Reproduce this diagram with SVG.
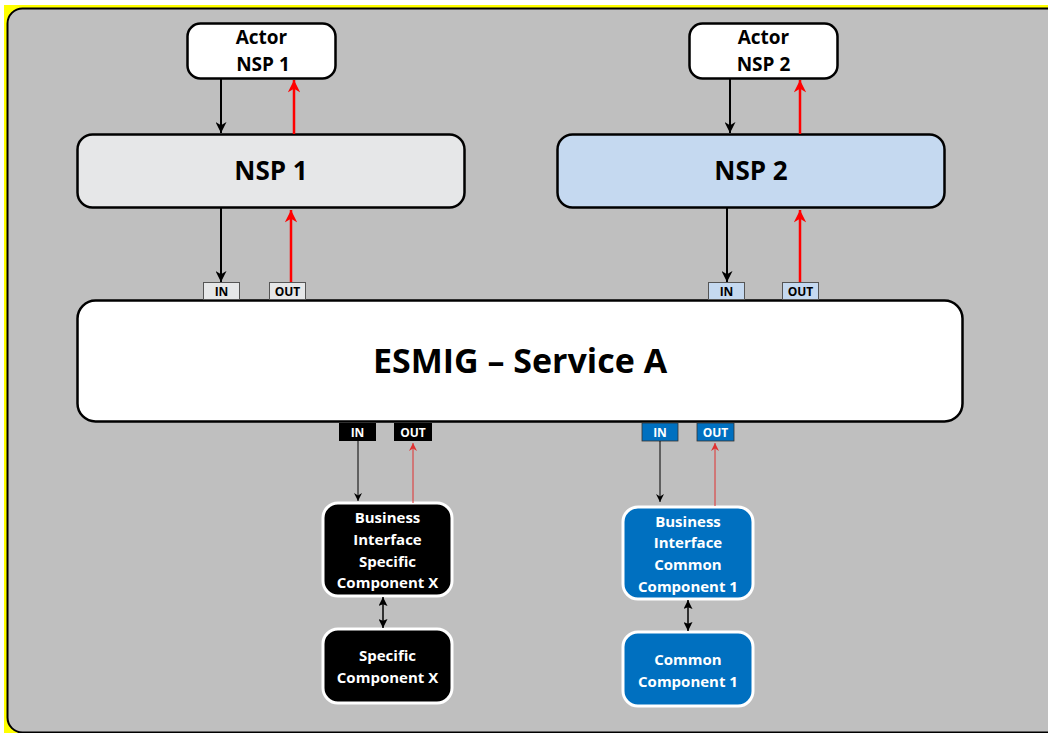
<svg xmlns="http://www.w3.org/2000/svg" width="1048" height="733" viewBox="0 0 1048 733">
<style>
text{font-family:"Open Sans","Noto Sans","Liberation Sans",Arial,sans-serif;font-weight:bold;text-anchor:middle;dominant-baseline:central}
.box{stroke:#000;stroke-width:2.5}
.port{stroke:#555;stroke-width:1}
.pt{font-size:12px}
.blk{stroke:#000;stroke-width:2;fill:none}
.red{stroke:#ff0000;stroke-width:2.5;fill:none}
.thin{stroke:#000;stroke-width:1;fill:none}
.thinr{stroke:#e03030;stroke-width:1;fill:none}
.comp{stroke:#fff;stroke-width:3}
.ct{font-size:15px;fill:#fff}
.at{font-size:19px}
</style>
<defs>
<marker id="ab" viewBox="0 0 10 10" refX="10" refY="5" markerWidth="5.5" markerHeight="5.5" orient="auto" markerUnits="strokeWidth"><path d="M0,0L10,5L0,10L3,5Z" fill="#000"/></marker>
<marker id="ar" viewBox="0 0 10 10" refX="10" refY="5" markerWidth="5" markerHeight="5" orient="auto" markerUnits="strokeWidth"><path d="M0,0L10,5L0,10L3,5Z" fill="#ff0000"/></marker>
<marker id="abt" viewBox="0 0 10 10" refX="10" refY="5" markerWidth="8" markerHeight="8" orient="auto" markerUnits="strokeWidth"><path d="M0,0L10,5L0,10L3,5Z" fill="#000"/></marker>
<marker id="art" viewBox="0 0 10 10" refX="10" refY="5" markerWidth="8" markerHeight="8" orient="auto" markerUnits="strokeWidth"><path d="M0,0L10,5L0,10L3,5Z" fill="#e03030"/></marker>
<marker id="dbl" viewBox="0 0 10 10" refX="10" refY="5" markerWidth="6" markerHeight="6" orient="auto-start-reverse" markerUnits="strokeWidth"><path d="M0,0L10,5L0,10L2,5Z" fill="#000"/></marker>
</defs>
<rect x="0" y="0" width="1048" height="733" fill="#fff"/>
<rect x="4" y="5" width="1060" height="740" fill="#ffff00"/>
<rect x="7.5" y="8.5" width="1060" height="724" rx="15" fill="#bfbfbf" stroke="#000" stroke-width="2"/>

<g id="actor-nsp1">
<rect class="box" x="187.5" y="23.5" width="148" height="55" rx="13" fill="#fff"/>
<text class="at" x="261.5" y="37">Actor</text>
<text class="at" x="263" y="64">NSP 1</text>
</g>
<g id="actor-nsp2">
<rect class="box" x="689.5" y="23.5" width="148" height="55" rx="13" fill="#fff"/>
<text class="at" x="763.5" y="37">Actor</text>
<text class="at" x="763.5" y="64">NSP 2</text>
</g>
<g id="nsp1">
<rect class="box" x="77.5" y="134.5" width="387" height="73" rx="15" fill="#e6e7e8"/>
<text x="271" y="170" font-size="26">NSP 1</text>
</g>
<g id="nsp2">
<rect class="box" x="557.5" y="134.5" width="387" height="73" rx="15" fill="#c5d9f0"/>
<text x="751" y="170" font-size="26">NSP 2</text>
</g>
<g id="esmig">
<rect class="box" x="77.5" y="300.5" width="885" height="121" rx="18" fill="#fff"/>
<text x="520" y="360" font-size="34">ESMIG – Service A</text>
</g>
<g id="ports-nsp1">
<rect class="port" x="203.5" y="282.5" width="36" height="17" fill="#e6e7e8"/>
<text class="pt" x="221.5" y="291">IN</text>
<rect class="port" x="269.5" y="282.5" width="36" height="17" fill="#e6e7e8"/>
<text class="pt" x="287.5" y="291">OUT</text>
</g>
<g id="ports-nsp2">
<rect class="port" x="708.5" y="282.5" width="36" height="17" fill="#c5d9f0"/>
<text class="pt" x="726.5" y="291">IN</text>
<rect class="port" x="782.5" y="282.5" width="36" height="17" fill="#c5d9f0"/>
<text class="pt" x="800.5" y="291">OUT</text>
</g>
<g id="ports-specific">
<rect x="339" y="423" width="37" height="18" fill="#000"/>
<text class="pt" x="357.5" y="432" fill="#fff">IN</text>
<rect x="394" y="423" width="38" height="18" fill="#000"/>
<text class="pt" x="413" y="432" fill="#fff">OUT</text>
</g>
<g id="ports-common">
<rect x="642" y="423" width="36" height="18" fill="#0070c0" stroke="#333" stroke-width="0.8"/>
<text class="pt" x="660" y="432" fill="#fff">IN</text>
<rect x="697" y="423" width="37" height="18" fill="#0070c0" stroke="#333" stroke-width="0.8"/>
<text class="pt" x="715.5" y="432" fill="#fff">OUT</text>
</g>
<g id="bi-specific">
<rect class="comp" x="323" y="503" width="129" height="93" rx="15" fill="#000"/>
<text class="ct" x="387.5" y="517">Business</text>
<text class="ct" x="387.5" y="538.5">Interface</text>
<text class="ct" x="387.5" y="560.5">Specific</text>
<text class="ct" x="387.5" y="582">Component X</text>
</g>
<g id="specific">
<rect class="comp" x="323" y="629" width="129" height="74" rx="15" fill="#000"/>
<text class="ct" x="387.5" y="654.5">Specific</text>
<text class="ct" x="387.5" y="676.5">Component X</text>
</g>
<g id="bi-common">
<rect class="comp" x="623" y="507" width="130" height="92" rx="15" fill="#0070c0"/>
<text class="ct" x="688" y="520.5">Business</text>
<text class="ct" x="688" y="542">Interface</text>
<text class="ct" x="688" y="563.5">Common</text>
<text class="ct" x="688" y="585.5">Component 1</text>
</g>
<g id="common">
<rect class="comp" x="623" y="632" width="130" height="74" rx="15" fill="#0070c0"/>
<text class="ct" x="688" y="658.5">Common</text>
<text class="ct" x="688" y="680.5">Component 1</text>
</g>
<g id="connectors">
<line class="blk" x1="221" y1="79" x2="221" y2="133" marker-end="url(#ab)"/>
<line class="red" x1="294" y1="134" x2="294" y2="80" marker-end="url(#ar)"/>
<line class="blk" x1="730" y1="79" x2="730" y2="133" marker-end="url(#ab)"/>
<line class="red" x1="800" y1="134" x2="800" y2="80" marker-end="url(#ar)"/>
<line class="blk" x1="221" y1="208" x2="221" y2="282" marker-end="url(#ab)"/>
<line class="red" x1="291" y1="282" x2="291" y2="210" marker-end="url(#ar)"/>
<line class="blk" x1="727" y1="208" x2="727" y2="282" marker-end="url(#ab)"/>
<line class="red" x1="800" y1="282" x2="800" y2="210" marker-end="url(#ar)"/>
<line class="thin" x1="358" y1="441" x2="358" y2="501" marker-end="url(#abt)"/>
<line class="thinr" x1="413" y1="503" x2="413" y2="443" marker-end="url(#art)"/>
<line class="thin" x1="660" y1="441" x2="660" y2="502" marker-end="url(#abt)"/>
<line class="thinr" x1="715" y1="506" x2="715" y2="443" marker-end="url(#art)"/>
<line stroke="#000" stroke-width="1.5" x1="383" y1="597" x2="383" y2="628" marker-start="url(#dbl)" marker-end="url(#dbl)"/>
<line stroke="#000" stroke-width="1.5" x1="688" y1="600" x2="688" y2="631" marker-start="url(#dbl)" marker-end="url(#dbl)"/>
</g>
</svg>
